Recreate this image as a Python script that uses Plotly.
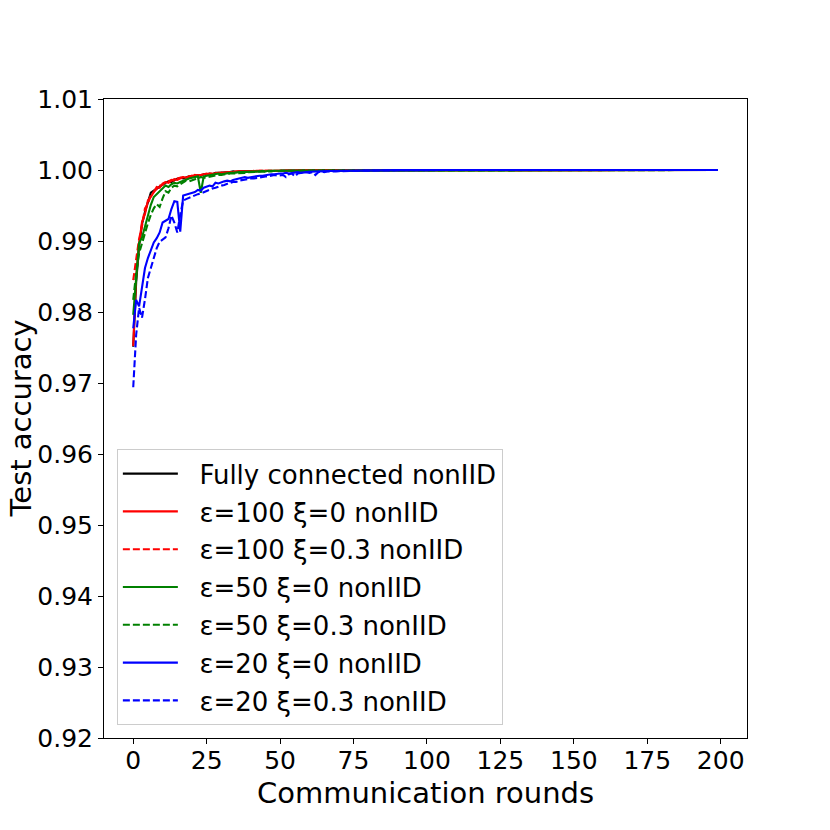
import plotly.graph_objects as go

rounds = list(range(200))

acc_full = [
    0.9751, 0.9842, 0.9893, 0.9924, 0.9941, 0.9956, 0.9968, 0.9971, 0.9974, 0.9977,
    0.9980, 0.9982, 0.9984, 0.9983, 0.9986, 0.9987, 0.9989, 0.9988, 0.9990, 0.9991,
    0.9990, 0.9992, 0.9993, 0.9992, 0.9994, 0.9994, 0.9995, 0.9994, 0.9996, 0.9996,
    0.9996, 0.9997, 0.9997, 0.9997, 0.9998, 0.9997, 0.9998, 0.9998, 0.9998, 0.9998,
    0.9999, 0.9998, 0.9999, 0.9999, 0.9999, 0.9999, 0.9999, 0.9999, 0.9999, 0.9999,
    0.99990, 0.99992, 0.99994, 0.99993, 0.99995, 0.99994, 0.99996, 0.99995, 0.99996, 0.99997,
    0.99996, 0.99997, 0.99997, 0.99998, 0.99997, 0.99998, 0.99998, 0.99997, 0.99998, 0.99999,
    0.99998, 0.99999, 0.99999, 0.99998, 0.99999, 1.0, 0.99999, 0.99999, 1.0, 0.99999,
    0.99999, 1.0, 0.99999, 1.0, 1.0, 0.99999, 1.0, 0.99999, 1.0, 1.0,
    1.0, 1.0, 0.99999, 1.0, 1.0, 1.0, 0.99999, 1.0, 1.0, 1.0,
    0.99999, 1.0, 1.0, 1.0, 1.0, 0.99999, 1.0, 1.0, 1.0, 1.0,
    1.0, 1.0, 1.0, 0.99999, 1.0, 1.0, 1.0, 1.0, 1.0, 1.0,
    1.0, 1.0, 1.0, 1.0, 1.0, 1.0, 0.99999, 1.0, 1.0, 1.0,
    1.0, 1.0, 1.0, 1.0, 1.0, 1.0, 1.0, 1.0, 1.0, 1.0,
    1.0, 0.99999, 1.0, 1.0, 1.0, 1.0, 1.0, 1.0, 1.0, 1.0,
    1.0, 1.0, 1.0, 1.0, 1.0, 1.0, 1.0, 1.0, 0.99999, 1.0,
    1.0, 1.0, 1.0, 1.0, 1.0, 1.0, 1.0, 1.0, 1.0, 1.0,
    1.0, 1.0, 1.0, 1.0, 0.99999, 1.0, 1.0, 1.0, 1.0, 1.0,
    1.0, 1.0, 1.0, 1.0, 1.0, 1.0, 1.0, 1.0, 1.0, 1.0,
    1.0, 1.0, 1.0, 1.0, 1.0, 1.0, 1.0, 1.0, 1.0, 1.0,
]

acc_e100_x0 = [
    0.9752, 0.9850, 0.9896, 0.9927, 0.9938, 0.9957, 0.9962, 0.9970, 0.9976, 0.9975,
    0.9981, 0.9983, 0.9982, 0.9985, 0.9987, 0.9986, 0.9988, 0.9990, 0.9989, 0.9991,
    0.9991, 0.9993, 0.9992, 0.9993, 0.9994, 0.9995, 0.9994, 0.9995, 0.9996, 0.9996,
    0.9996, 0.9996, 0.9997, 0.9997, 0.9997, 0.9998, 0.9998, 0.9997, 0.9998, 0.9998,
    0.9998, 0.9999, 0.9998, 0.9999, 0.9999, 0.9999, 0.9999, 0.9999, 0.9999, 0.9999,
    0.99991, 0.99992, 0.99993, 0.99994, 0.99994, 0.99995, 0.99995, 0.99996, 0.99996, 0.99996,
    0.99997, 0.99996, 0.99997, 0.99997, 0.99998, 0.99998, 0.99997, 0.99998, 0.99998, 0.99998,
    0.99999, 0.99998, 0.99999, 0.99999, 0.99999, 0.99998, 1.0, 0.99999, 0.99999, 1.0,
    0.99999, 0.99999, 1.0, 0.99999, 1.0, 0.99999, 1.0, 1.0, 0.99999, 1.0,
    1.0, 0.99999, 1.0, 1.0, 1.0, 0.99999, 1.0, 1.0, 1.0, 1.0,
    1.0, 1.0, 0.99999, 1.0, 1.0, 1.0, 1.0, 1.0, 0.99999, 1.0,
    1.0, 1.0, 1.0, 1.0, 1.0, 1.0, 1.0, 0.99999, 1.0, 1.0,
    1.0, 1.0, 1.0, 1.0, 1.0, 1.0, 1.0, 1.0, 1.0, 1.0,
    1.0, 1.0, 0.99999, 1.0, 1.0, 1.0, 1.0, 1.0, 1.0, 1.0,
    1.0, 1.0, 1.0, 1.0, 1.0, 1.0, 1.0, 1.0, 1.0, 1.0,
    1.0, 1.0, 1.0, 1.0, 1.0, 0.99999, 1.0, 1.0, 1.0, 1.0,
    1.0, 1.0, 1.0, 1.0, 1.0, 1.0, 1.0, 1.0, 1.0, 1.0,
    1.0, 1.0, 1.0, 1.0, 1.0, 1.0, 1.0, 1.0, 1.0, 1.0,
    1.0, 1.0, 1.0, 1.0, 1.0, 1.0, 1.0, 1.0, 1.0, 1.0,
    1.0, 1.0, 1.0, 1.0, 1.0, 1.0, 1.0, 1.0, 1.0, 1.0,
]

acc_e100_x03 = [
    0.9845, 0.9872, 0.9903, 0.9921, 0.9946, 0.9952, 0.9965, 0.9969, 0.9973, 0.9978,
    0.9979, 0.9983, 0.9984, 0.9986, 0.9985, 0.9988, 0.9989, 0.9990, 0.9989, 0.9991,
    0.9992, 0.9991, 0.9993, 0.9993, 0.9994, 0.9993, 0.9995, 0.9995, 0.9995, 0.9996,
    0.9996, 0.9997, 0.9996, 0.9997, 0.9997, 0.9997, 0.9998, 0.9998, 0.9998, 0.9998,
    0.9998, 0.9998, 0.9999, 0.9999, 0.9998, 0.9999, 0.9999, 0.9999, 0.9999, 0.9999,
    0.99990, 0.99991, 0.99993, 0.99993, 0.99994, 0.99995, 0.99994, 0.99995, 0.99996, 0.99996,
    0.99996, 0.99997, 0.99997, 0.99997, 0.99997, 0.99998, 0.99998, 0.99998, 0.99997, 0.99998,
    0.99998, 0.99999, 0.99998, 0.99999, 0.99999, 0.99999, 0.99999, 1.0, 0.99999, 0.99999,
    1.0, 0.99999, 1.0, 0.99999, 0.99999, 1.0, 1.0, 0.99999, 1.0, 1.0,
    0.99999, 1.0, 1.0, 1.0, 0.99999, 1.0, 1.0, 1.0, 1.0, 0.99999,
    1.0, 1.0, 1.0, 1.0, 1.0, 1.0, 0.99999, 1.0, 1.0, 1.0,
    1.0, 1.0, 1.0, 1.0, 0.99999, 1.0, 1.0, 1.0, 1.0, 1.0,
    1.0, 1.0, 1.0, 1.0, 1.0, 1.0, 1.0, 1.0, 1.0, 0.99999,
    1.0, 1.0, 1.0, 1.0, 1.0, 1.0, 1.0, 1.0, 1.0, 1.0,
    1.0, 1.0, 1.0, 1.0, 1.0, 1.0, 1.0, 0.99999, 1.0, 1.0,
    1.0, 1.0, 1.0, 1.0, 1.0, 1.0, 1.0, 1.0, 1.0, 1.0,
    1.0, 1.0, 1.0, 0.99999, 1.0, 1.0, 1.0, 1.0, 1.0, 1.0,
    1.0, 1.0, 1.0, 1.0, 1.0, 1.0, 1.0, 1.0, 1.0, 1.0,
    1.0, 1.0, 1.0, 1.0, 1.0, 1.0, 1.0, 1.0, 1.0, 1.0,
    1.0, 1.0, 1.0, 1.0, 1.0, 1.0, 1.0, 1.0, 1.0, 1.0,
]

acc_e50_x0 = [
    0.9796, 0.9852, 0.9897, 0.9905, 0.9921, 0.9938, 0.9951, 0.9962, 0.9966, 0.9971,
    0.9974, 0.9978, 0.9976, 0.9980, 0.9982, 0.9981, 0.9983, 0.9985, 0.9986, 0.9988,
    0.9989, 0.9990, 0.9991, 0.9968, 0.9991, 0.9992, 0.9993, 0.9993, 0.9994, 0.9995,
    0.9994, 0.9995, 0.9996, 0.9996, 0.9996, 0.9997, 0.9997, 0.9997, 0.9997, 0.9998,
    0.9998, 0.9998, 0.9998, 0.9998, 0.9999, 0.9998, 0.9999, 0.9999, 0.9999, 0.9999,
    0.99990, 0.99991, 0.99992, 0.99992, 0.99993, 0.99994, 0.99994, 0.99995, 0.99995, 0.99996,
    0.99996, 0.99996, 0.99997, 0.99997, 0.99997, 0.99997, 0.99998, 0.99998, 0.99998, 0.99998,
    0.99998, 0.99999, 0.99999, 0.99998, 0.99999, 0.99999, 0.99999, 0.99999, 1.0, 0.99999,
    0.99999, 1.0, 0.99999, 0.99999, 1.0, 0.99999, 1.0, 1.0, 0.99999, 1.0,
    1.0, 0.99999, 1.0, 1.0, 0.99999, 1.0, 1.0, 1.0, 1.0, 1.0,
    0.99999, 1.0, 1.0, 1.0, 1.0, 1.0, 1.0, 0.99999, 1.0, 1.0,
    1.0, 1.0, 1.0, 1.0, 1.0, 1.0, 1.0, 1.0, 1.0, 1.0,
    1.0, 0.99999, 1.0, 1.0, 1.0, 1.0, 1.0, 1.0, 1.0, 1.0,
    1.0, 1.0, 1.0, 1.0, 1.0, 1.0, 1.0, 1.0, 1.0, 1.0,
    1.0, 1.0, 1.0, 1.0, 1.0, 1.0, 0.99999, 1.0, 1.0, 1.0,
    1.0, 1.0, 1.0, 1.0, 1.0, 1.0, 1.0, 1.0, 1.0, 1.0,
    1.0, 1.0, 1.0, 1.0, 1.0, 1.0, 1.0, 1.0, 1.0, 1.0,
    1.0, 1.0, 0.99999, 1.0, 1.0, 1.0, 1.0, 1.0, 1.0, 1.0,
    1.0, 1.0, 1.0, 1.0, 1.0, 1.0, 1.0, 1.0, 1.0, 1.0,
    1.0, 1.0, 1.0, 1.0, 1.0, 1.0, 1.0, 1.0, 1.0, 1.0,
]

acc_e50_x03 = [
    0.9817, 0.9855, 0.9883, 0.9897, 0.9913, 0.9925, 0.9937, 0.9946, 0.9952, 0.9948,
    0.9960, 0.9970, 0.9968, 0.9975, 0.9978, 0.9977, 0.9980, 0.9982, 0.9985, 0.9984,
    0.9986, 0.9987, 0.9988, 0.9990, 0.9989, 0.9990, 0.9991, 0.9992, 0.9992, 0.9993,
    0.9993, 0.9994, 0.9994, 0.9995, 0.9995, 0.9995, 0.9996, 0.9996, 0.9996, 0.9997,
    0.9997, 0.9997, 0.9997, 0.9998, 0.9998, 0.9998, 0.9998, 0.9998, 0.9999, 0.9998,
    0.99990, 0.99990, 0.99991, 0.99992, 0.99992, 0.99993, 0.99993, 0.99994, 0.99994, 0.99995,
    0.99995, 0.99995, 0.99996, 0.99996, 0.99996, 0.99997, 0.99997, 0.99997, 0.99997, 0.99998,
    0.99998, 0.99998, 0.99998, 0.99998, 0.99999, 0.99998, 0.99999, 0.99999, 0.99999, 0.99999,
    0.99999, 0.99999, 1.0, 0.99999, 0.99999, 0.99999, 1.0, 0.99999, 1.0, 0.99999,
    1.0, 1.0, 0.99999, 1.0, 1.0, 0.99999, 1.0, 1.0, 1.0, 0.99999,
    1.0, 1.0, 1.0, 1.0, 0.99999, 1.0, 1.0, 1.0, 1.0, 1.0,
    1.0, 0.99999, 1.0, 1.0, 1.0, 1.0, 1.0, 1.0, 1.0, 1.0,
    1.0, 1.0, 1.0, 1.0, 1.0, 1.0, 1.0, 0.99999, 1.0, 1.0,
    1.0, 1.0, 1.0, 1.0, 1.0, 1.0, 1.0, 1.0, 1.0, 1.0,
    1.0, 1.0, 1.0, 1.0, 1.0, 1.0, 1.0, 1.0, 1.0, 1.0,
    1.0, 1.0, 1.0, 0.99999, 1.0, 1.0, 1.0, 1.0, 1.0, 1.0,
    1.0, 1.0, 1.0, 1.0, 1.0, 1.0, 1.0, 1.0, 1.0, 1.0,
    1.0, 1.0, 1.0, 1.0, 1.0, 1.0, 1.0, 1.0, 1.0, 1.0,
    1.0, 1.0, 1.0, 1.0, 1.0, 1.0, 1.0, 1.0, 1.0, 1.0,
    1.0, 1.0, 1.0, 1.0, 1.0, 1.0, 1.0, 1.0, 1.0, 1.0,
]

acc_e20_x0 = [
    0.9777, 0.9817, 0.9808, 0.9835, 0.9862, 0.9876, 0.9887, 0.9898, 0.9904, 0.9912,
    0.9926, 0.9929, 0.9931, 0.9945, 0.9956, 0.9955, 0.9913, 0.9964, 0.9965, 0.9967,
    0.9968, 0.9969, 0.9972, 0.9971, 0.9975, 0.9976, 0.9978, 0.9977, 0.9982, 0.9981,
    0.9983, 0.9984, 0.9985, 0.9984, 0.9986, 0.9987, 0.9987, 0.9988, 0.9990, 0.9989,
    0.9990, 0.9991, 0.9991, 0.9992, 0.9992, 0.9993, 0.9993, 0.9994, 0.9994, 0.9995,
    0.9995, 0.9995, 0.9996, 0.9995, 0.9996, 0.9996, 0.9997, 0.9996, 0.9997, 0.9997,
    0.99975, 0.99978, 0.99977, 0.99980, 0.99982, 0.99981, 0.99984, 0.99985, 0.99986, 0.99987,
    0.99988, 0.99989, 0.99990, 0.99990, 0.99991, 0.99992, 0.99992, 0.99993, 0.99994, 0.99994,
    0.99995, 0.99995, 0.99996, 0.99996, 0.99996, 0.99997, 0.99997, 0.99997, 0.99998, 0.99998,
    0.99998, 0.99998, 0.99999, 0.99998, 0.99999, 0.99999, 0.99999, 0.99999, 1.0, 0.99999,
    0.99999, 1.0, 0.99999, 1.0, 0.99999, 1.0, 1.0, 0.99999, 1.0, 1.0,
    1.0, 0.99999, 1.0, 1.0, 1.0, 1.0, 0.99999, 1.0, 1.0, 1.0,
    1.0, 1.0, 1.0, 1.0, 0.99999, 1.0, 1.0, 1.0, 1.0, 1.0,
    1.0, 1.0, 1.0, 1.0, 1.0, 1.0, 1.0, 1.0, 0.99999, 1.0,
    1.0, 1.0, 1.0, 1.0, 1.0, 1.0, 1.0, 1.0, 1.0, 1.0,
    1.0, 1.0, 1.0, 1.0, 1.0, 1.0, 1.0, 1.0, 1.0, 1.0,
    1.0, 1.0, 0.99999, 1.0, 1.0, 1.0, 1.0, 1.0, 1.0, 1.0,
    1.0, 1.0, 1.0, 1.0, 1.0, 1.0, 1.0, 1.0, 1.0, 1.0,
    1.0, 1.0, 1.0, 1.0, 1.0, 1.0, 1.0, 1.0, 1.0, 1.0,
    1.0, 1.0, 1.0, 1.0, 1.0, 1.0, 1.0, 1.0, 1.0, 1.0,
]

acc_e20_x03 = [
    0.9694, 0.9768, 0.9806, 0.9792, 0.9818, 0.9848, 0.9862, 0.9878, 0.9890, 0.9899,
    0.9902, 0.9905, 0.9918, 0.9936, 0.9926, 0.9912, 0.9937, 0.9957, 0.9959, 0.9961,
    0.9962, 0.9964, 0.9966, 0.9967, 0.9969, 0.9970, 0.9972, 0.9974, 0.9975, 0.9977,
    0.9978, 0.9979, 0.9981, 0.9982, 0.9983, 0.9983, 0.9985, 0.9986, 0.9986, 0.9987,
    0.9988, 0.9988, 0.9989, 0.9990, 0.9990, 0.9991, 0.9991, 0.9992, 0.9993, 0.9992,
    0.9993, 0.9993, 0.9990, 0.9994, 0.9995, 0.9991, 0.9995, 0.9996, 0.9996, 0.9997,
    0.9996, 0.9997, 0.9993, 0.9997, 0.9998, 0.9997, 0.9998, 0.9998, 0.9997, 0.9998,
    0.99982, 0.99984, 0.99985, 0.99986, 0.99984, 0.99987, 0.99988, 0.99989, 0.99990, 0.99991,
    0.99991, 0.99992, 0.99993, 0.99993, 0.99994, 0.99994, 0.99995, 0.99995, 0.99996, 0.99996,
    0.99996, 0.99997, 0.99997, 0.99997, 0.99998, 0.99998, 0.99998, 0.99998, 0.99999, 0.99998,
    0.99999, 0.99999, 0.99999, 0.99999, 1.0, 0.99999, 0.99999, 1.0, 0.99999, 1.0,
    1.0, 0.99999, 1.0, 1.0, 0.99999, 1.0, 1.0, 1.0, 1.0, 0.99999,
    1.0, 1.0, 1.0, 1.0, 1.0, 1.0, 0.99999, 1.0, 1.0, 1.0,
    1.0, 1.0, 1.0, 1.0, 1.0, 1.0, 1.0, 1.0, 1.0, 1.0,
    1.0, 1.0, 1.0, 0.99999, 1.0, 1.0, 1.0, 1.0, 1.0, 1.0,
    1.0, 1.0, 1.0, 1.0, 1.0, 1.0, 1.0, 1.0, 1.0, 1.0,
    1.0, 1.0, 1.0, 1.0, 1.0, 1.0, 1.0, 0.99999, 1.0, 1.0,
    1.0, 1.0, 1.0, 1.0, 1.0, 1.0, 1.0, 1.0, 1.0, 1.0,
    1.0, 1.0, 1.0, 1.0, 1.0, 1.0, 1.0, 1.0, 1.0, 1.0,
    1.0, 1.0, 1.0, 1.0, 1.0, 1.0, 1.0, 1.0, 1.0, 1.0,
]

series = [
    ("Fully connected nonIID", acc_full, "black", "solid"),
    ("ε=100 ξ=0 nonIID", acc_e100_x0, "red", "solid"),
    ("ε=100 ξ=0.3 nonIID", acc_e100_x03, "red", "7px,3px"),
    ("ε=50 ξ=0 nonIID", acc_e50_x0, "green", "solid"),
    ("ε=50 ξ=0.3 nonIID", acc_e50_x03, "green", "7px,3px"),
    ("ε=20 ξ=0 nonIID", acc_e20_x0, "blue", "solid"),
    ("ε=20 ξ=0.3 nonIID", acc_e20_x03, "blue", "7px,3px"),
]

x_ticks = [0, 25, 50, 75, 100, 125, 150, 175, 200]
y_ticks = [0.92, 0.93, 0.94, 0.95, 0.96, 0.97, 0.98, 0.99, 1.00, 1.01]

fig = go.Figure()
for i, (name, acc, color, dash) in enumerate(series):
    fig.add_trace(go.Scatter(x=rounds, y=acc, mode="lines",
                             name="\u00a0\u00a0" + name,
                             legendgroup=str(i),
                             line=dict(color=color, width=2.1, dash=dash)))

axis_style = dict(showline=True, linecolor="black", linewidth=1, mirror=True,
                  ticks="outside", ticklen=5, tickwidth=1, tickcolor="black",
                  showgrid=False, zeroline=False, automargin=False,
                  tickfont=dict(size=25, color="black"))

fig.update_xaxes(range=[-9.95, 208.95], tickvals=x_ticks, ticklabelstandoff=-5, **axis_style)
fig.update_yaxes(range=[0.92, 1.01], tickvals=y_ticks, tickformat=".2f", **axis_style)

# axis titles as annotations so they sit where the reference has them
fig.add_annotation(text="Communication rounds", x=0.5, y=0, xref="paper", yref="paper",
                   xanchor="center", yanchor="middle", yshift=-55, showarrow=False,
                   font=dict(size=29, color="black"))
fig.add_annotation(text="Test accuracy", x=0, y=0.5, xref="paper", yref="paper",
                   xanchor="center", yanchor="middle", xshift=-84, textangle=-90,
                   showarrow=False, font=dict(size=29, color="black"))

# page body adds an 8px offset, so the figure is 822 px and margins are 8 px smaller
fig.update_layout(
    width=822, height=822,
    margin=dict(l=96, r=83, t=91, b=92),
    paper_bgcolor="white", plot_bgcolor="white",
    font=dict(family="DejaVu Sans", color="black"),
    legend=dict(x=0.02, y=0.02, xanchor="left", yanchor="bottom",
                bgcolor="rgba(255,255,255,0.8)", bordercolor="#cccccc", borderwidth=1,
                font=dict(size=26, color="black"), traceorder="grouped",
                tracegroupgap=1, itemwidth=55),
)

fig.write_html("out.html")
